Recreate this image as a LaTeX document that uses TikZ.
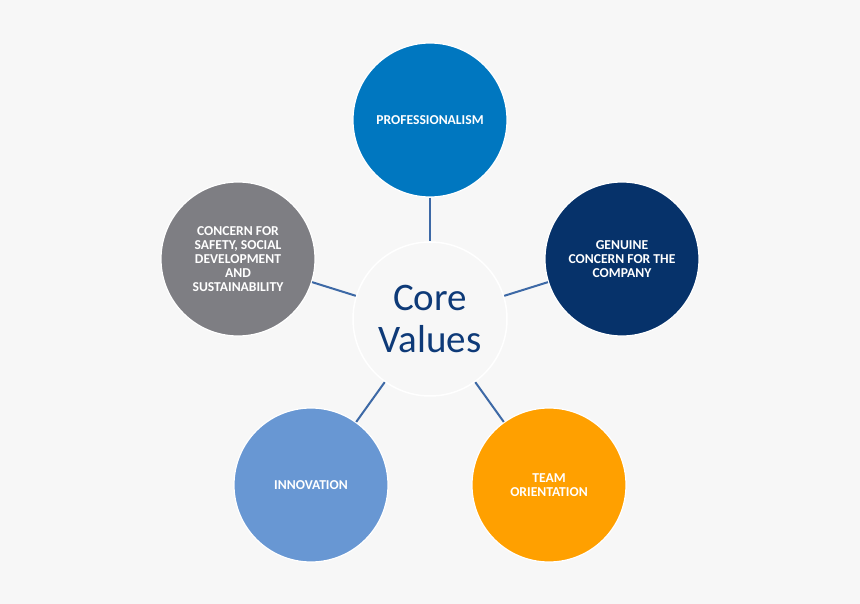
\documentclass[tikz,border=0pt]{standalone}
\usepackage{fontspec}
\setmainfont{Carlito}
\definecolor{bgc}{HTML}{F7F7F7}
\definecolor{profc}{HTML}{0077C0}
\definecolor{genc}{HTML}{06326A}
\definecolor{concc}{HTML}{7E7E83}
\definecolor{innoc}{HTML}{6897D3}
\definecolor{teamc}{HTML}{FFA000}
\definecolor{corec}{HTML}{0E3A78}
\definecolor{linec}{HTML}{3D69A6}
\begin{document}
\begin{tikzpicture}[x=1pt,y=-1pt,
  valbox/.style={circle,minimum size=154pt,inner sep=0pt,draw=white,line width=1.2pt,
    text=white,align=center,font=\bfseries\fontsize{13.6}{14.2}\selectfont},
  corebox/.style={circle,minimum size=154pt,inner sep=0pt,draw=white,line width=1.5pt,
    fill=bgc,text=corec,align=center,font=\fontsize{39}{42}\selectfont},
  link/.style={draw=linec,line width=2pt}]
\fill[bgc] (0,0) rectangle (860,604);
\useasboundingbox (0,0) rectangle (860,604);
\node[corebox] (core) at (430,319) {Core\\Values};
\node[valbox,fill=profc] (prof) at (430,120) {PROFESSIONALISM};
\node[valbox,fill=genc] (gen) at (622,259) {GENUINE\\CONCERN FOR THE\\COMPANY};
\node[valbox,fill=teamc] (team) at (549,485) {TEAM\\ORIENTATION};
\node[valbox,fill=innoc] (inno) at (311,485) {INNOVATION};
\node[valbox,fill=concc] (conc) at (238,259) {CONCERN FOR\\SAFETY, SOCIAL\\DEVELOPMENT\\AND\\SUSTAINABILITY};
\foreach \n in {prof,gen,team,inno,conc}{
  \draw[link] (\n) -- (core);
}
\end{tikzpicture}
\end{document}
